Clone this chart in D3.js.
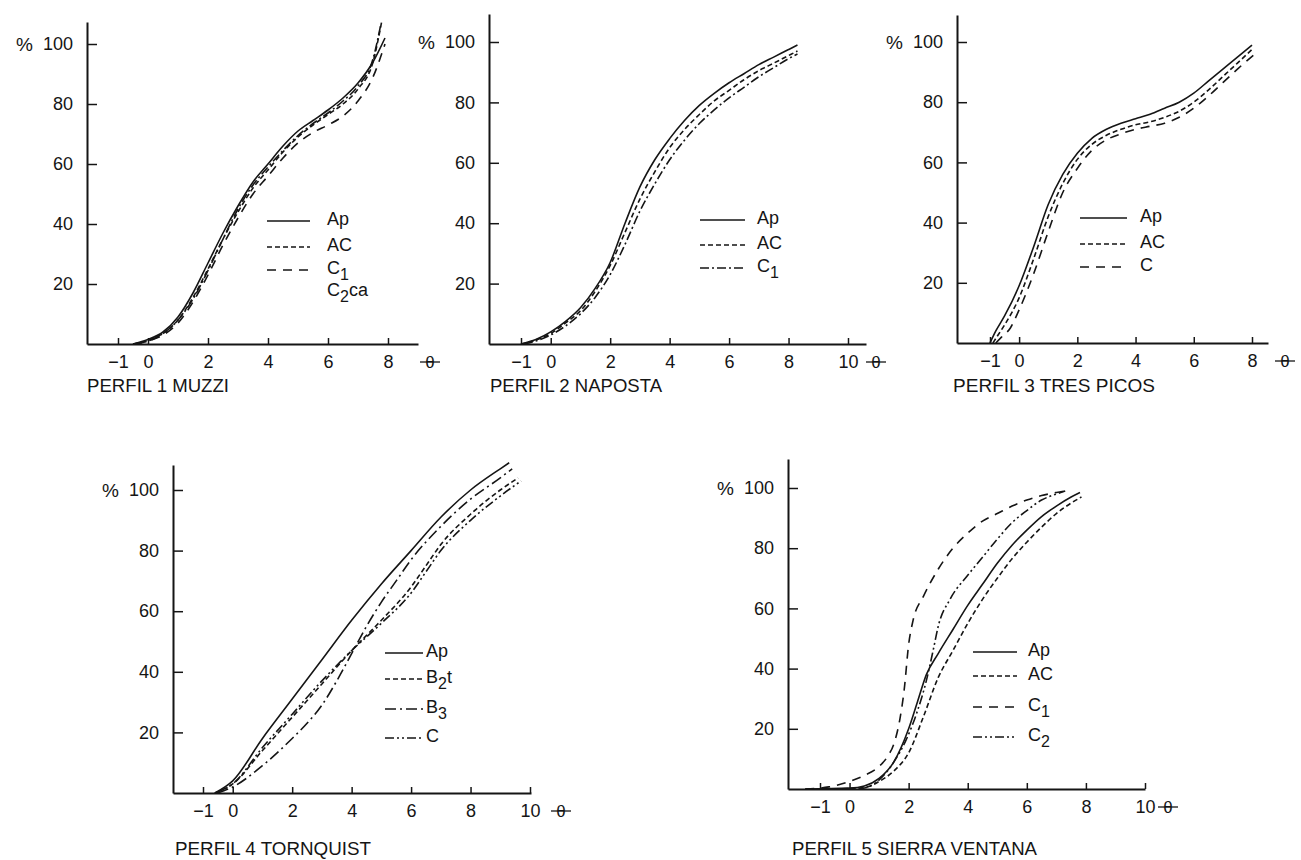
<!DOCTYPE html>
<html><head><meta charset="utf-8">
<script src="https://cdn.jsdelivr.net/npm/d3@7"></script>
<style>
body{margin:0;background:#fff}
text{font-family:"Liberation Sans",Arial,sans-serif;fill:#151515}
</style></head>
<body><svg id="c" width="1301" height="860"></svg>
<script>
// ---------------- DATA (phi, cumulative %) ----------------
const xTicks1 = [-1, 0, 2, 4, 6, 8];
const xTicks2 = [-1, 0, 2, 4, 6, 8, 10];
const yTicks = [20, 40, 60, 80, 100];

const titles = ["PERFIL 1  MUZZI", "PERFIL 2  NAPOSTA", "PERFIL 3  TRES PICOS", "PERFIL 4  TORNQUIST", "PERFIL 5  SIERRA VENTANA"];

// Perfil 1 Muzzi
const p1_names = ["Ap", "AC", "C1", "C2ca"];
const p1_Ap = [[-0.5,0],[0,1.5],[0.5,4],[1,9],[1.5,17],[2,27],[2.5,37],[3,46],[3.5,54],[4,60],[4.5,66],[5,71],[5.5,74.5],[6,78],[6.5,82],[7,87],[7.5,94],[7.9,102]];
const p1_AC = [[-0.5,0],[0,1.2],[0.5,3.5],[1,8],[1.5,15.5],[2,25],[2.5,35],[3,44],[3.5,52],[4,58],[4.5,64],[5,69],[5.5,73],[6,76.5],[6.5,80],[7,85],[7.5,94],[7.8,108]];
const p1_C1 = [[-0.4,0],[0,1],[0.5,3],[1,7],[1.5,14],[2,23],[2.5,33],[3,42],[3.5,50],[4,56],[4.5,62],[5,67],[5.5,70.5],[6,73],[6.5,76],[7,81],[7.5,89],[7.9,100]];
const p1_C2ca = [[-0.5,0],[0,1],[0.5,3.5],[1,8],[1.5,15],[2,24.5],[2.5,35],[3,45],[3.5,53],[4,59],[4.5,64.5],[5,69.5],[5.5,73.5],[6,77],[6.5,81],[7,86],[7.5,95],[7.75,106]];

// Perfil 2 Naposta
const p2_names = ["Ap", "AC", "C1"];
const p2_Ap = [[-1,0],[-0.5,1.5],[0,4],[0.5,7.5],[1,12],[1.5,18.5],[2,27],[2.5,40],[3,52],[3.5,61],[4,68],[4.5,74],[5,79],[5.5,83],[6,86.5],[6.5,89.5],[7,92.5],[7.5,95],[8,97.5],[8.3,99]];
const p2_AC = [[-1,0],[-0.5,1.3],[0,3.5],[0.5,7],[1,11],[1.5,17.5],[2,26],[2.5,37],[3,48],[3.5,57],[4,65],[4.5,71],[5,76],[5.5,80.5],[6,84],[6.5,87.5],[7,90.5],[7.5,93],[8,95.5],[8.3,97]];
const p2_C1 = [[-0.9,0],[-0.5,1],[0,3],[0.5,6],[1,10],[1.5,15.5],[2,23],[2.5,33],[3,44],[3.5,53],[4,61],[4.5,67.5],[5,73],[5.5,77.5],[6,81.5],[6.5,85],[7,88.5],[7.5,91.5],[8,94.5],[8.3,96]];

// Perfil 3 Tres Picos
const p3_names = ["Ap", "AC", "C"];
const p3_Ap = [[-1.0,0],[-0.8,4],[-0.5,9],[0,19],[0.5,32],[1,46],[1.5,56],[2,63],[2.5,68],[3,71],[3.5,73],[4,74.5],[4.5,76],[5,78],[5.5,80],[6,83],[6.5,87],[7,91],[7.5,95],[8,99]];
const p3_AC = [[-0.9,0],[-0.7,3],[-0.5,6],[0,15],[0.5,28],[1,42],[1.5,53],[2,61],[2.5,66],[3,69],[3.5,71],[4,72.5],[4.5,73.5],[5,75],[5.5,77],[6,80],[6.5,84],[7,88.5],[7.5,93],[8,97.5]];
const p3_C = [[-0.8,0],[-0.6,2],[-0.3,5],[0,11],[0.5,23],[1,37],[1.5,50],[2,58],[2.5,64],[3,67.5],[3.5,69.5],[4,71],[4.5,72],[5,73],[5.5,75],[6,78],[6.5,82],[7,86.5],[7.5,91],[8.1,96]];

// Perfil 4 Tornquist
const p4_names = ["Ap", "B2t", "B3", "C"];
const p4_Ap = [[-0.6,0],[0,4],[1,18],[2,31],[3,44],[4,57],[5,69],[6,80],[7,91],[8,100],[9,107],[9.3,109]];
const p4_B2t = [[-0.6,0],[0,3],[1,14],[2,25],[3,36],[4,47],[5,57],[6,68],[6.5,75],[7,82],[8,92],[9,100],[9.6,104]];
const p4_B3 = [[-0.5,0],[0,2],[1,9],[2,18],[2.5,23],[3,29],[3.5,37],[4,46],[4.5,55],[5,63],[5.5,70],[6,77],[7,88],[8,97],[9,104],[9.4,107]];
const p4_C = [[-0.6,0],[0,3],[1,15],[2,26],[3,37],[4,47],[5,56],[6,66],[6.5,73],[7,80],[8,90],[9,98],[9.7,103]];

// Perfil 5 Sierra Ventana
const p5_names = ["Ap", "AC", "C1", "C2"];
const p5_Ap = [[-1.5,0],[0,0.3],[0.5,1],[1,3.5],[1.5,9],[2,20],[2.3,29],[2.6,38],[3,45],[3.5,53],[4,61],[4.5,68],[5,75],[5.5,81],[6,86],[6.5,90.5],[7,94],[7.5,97],[7.8,98.5]];
const p5_AC = [[-0.5,0],[0.5,0.5],[1,2.5],[1.5,6],[2,12],[2.5,24],[3,37],[3.5,46],[4,55],[4.5,63],[5,70],[5.5,76.5],[6,82],[6.5,87],[7,91.5],[7.5,95],[7.85,97]];
const p5_C1 = [[-1.5,0],[-0.7,0.7],[0,2.5],[0.5,4.5],[1,7.5],[1.3,11],[1.5,15],[1.7,23],[1.85,33],[2,48],[2.15,56],[2.5,64],[3,73],[3.5,80],[4,85],[4.5,89],[5,91.5],[5.5,94],[6,96],[6.5,97.5],[7,98.5],[7.3,99]];
const p5_C2 = [[0.3,0],[0.8,1.5],[1.2,5],[1.5,9],[1.9,16],[2.3,26],[2.6,36],[2.85,47],[3,54],[3.4,63],[4,71],[4.5,77],[5,83],[5.5,88.5],[6,92.5],[6.5,96],[7,98],[7.3,99]];

// ---------------- STYLES / LAYOUT ----------------
const DASH = {solid:null, short:"5,3", long:"9,7", dashdot:"9,3,2,3", longdot:"11,4,2,4", dashdotdot:"9,3,2,3,2,3"};

const panels = [
  {title:titles[0], tw:142, yAxisX:87, top:22, axisY:344, y100:44, tA:-1, tAx:118, tB:8, tBx:388, xEnd:418, phiX:430,
   ticks:xTicks1, series:[p1_Ap,p1_AC,p1_C1,p1_C2ca], names:p1_names,
   dash:[DASH.solid,DASH.short,DASH.long,DASH.dashdot], legendLine:[true,true,true,false],
   lg:{x1:267,x2:310,tx:327,ys:[219,245,268,290]}, titleX:87, titleY:392},
  {title:titles[1], tw:172, yAxisX:489, top:14, axisY:344, y100:42, tA:-1, tAx:521, tB:10, tBx:848, xEnd:866, phiX:876,
   ticks:xTicks2, series:[p2_Ap,p2_AC,p2_C1], names:p2_names,
   dash:[DASH.solid,DASH.short,DASH.dashdot], legendLine:[true,true,true],
   lg:{x1:700,x2:745,tx:757,ys:[218,243,266]}, titleX:490, titleY:392},
  {title:titles[2], tw:202, yAxisX:957, top:15, axisY:343, y100:42, tA:-1, tAx:990, tB:8, tBx:1252, xEnd:1268, phiX:1285,
   ticks:xTicks1, series:[p3_Ap,p3_AC,p3_C], names:p3_names,
   dash:[DASH.solid,DASH.short,DASH.long], legendLine:[true,true,true],
   lg:{x1:1080,x2:1127,tx:1140,ys:[216,242,265]}, titleX:953, titleY:392},
  {title:titles[3], tw:196, yAxisX:173, top:465, axisY:793, y100:490, tA:-1, tAx:203, tB:10, tBx:530, xEnd:531, phiX:561,
   ticks:xTicks2, series:[p4_Ap,p4_B2t,p4_B3,p4_C], names:p4_names,
   dash:[DASH.solid,DASH.short,DASH.longdot,DASH.dashdotdot], legendLine:[true,true,true,true],
   lg:{x1:385,x2:423,tx:426,ys:[651,677,707,736]}, titleX:175, titleY:855},
  {title:titles[4], tw:245, yAxisX:788, top:459, axisY:789, y100:488, tA:-1, tAx:820, tB:10, tBx:1145, xEnd:1145, phiX:1168,
   ticks:xTicks2, series:[p5_Ap,p5_AC,p5_C1,p5_C2], names:p5_names,
   dash:[DASH.solid,DASH.short,DASH.long,DASH.dashdotdot], legendLine:[true,true,true,true],
   lg:{x1:973,x2:1017,tx:1028,ys:[650,674,705,735]}, titleX:792, titleY:855}
];

const svg = d3.select("#c");
const INK = "#151515";

function label(sel, name){
  const m = name.match(/^([A-Za-z]+?)(\d)(.*)$/);
  if(!m){ sel.text(name); return; }
  sel.append("tspan").text(m[1]);
  sel.append("tspan").attr("dy",6).attr("font-size",16).text(m[2]);
  if(m[3]) sel.append("tspan").attr("dy",-6).text(m[3]);
}

panels.forEach(p => {
  const g = svg.append("g");
  const x = d3.scaleLinear().domain([p.tA,p.tB]).range([p.tAx,p.tBx]);
  x.domain([x.invert(p.yAxisX), x.invert(p.xEnd)]).range([p.yAxisX, p.xEnd]);
  const y = d3.scaleLinear().domain([0,100]).range([p.axisY,p.y100]);
  y.domain([0, y.invert(p.top)]).range([p.axisY, p.top]);

  const xa = g.append("g").attr("transform",`translate(0,${p.axisY})`)
    .call(d3.axisBottom(x).tickValues(p.ticks).tickSizeInner(-6).tickSizeOuter(0).tickPadding(11)
      .tickFormat(d => d < 0 ? "\u2212" + Math.abs(d) : d));
  xa.select(".domain").attr("stroke",INK).attr("stroke-width",2);
  xa.selectAll(".tick line").attr("stroke",INK).attr("stroke-width",1.5);
  xa.selectAll(".tick text").attr("font-size",18).attr("fill",INK).attr("font-family","Liberation Sans, Arial, sans-serif");

  const ya = g.append("g").attr("transform",`translate(${p.yAxisX},0)`)
    .call(d3.axisLeft(y).tickValues(yTicks).tickSizeInner(-10).tickSizeOuter(0).tickPadding(14));
  ya.select(".domain").attr("stroke",INK).attr("stroke-width",2);
  ya.selectAll(".tick line").attr("stroke",INK).attr("stroke-width",1.5);
  ya.selectAll(".tick text").attr("font-size",18).attr("fill",INK).attr("font-family","Liberation Sans, Arial, sans-serif");

  g.append("text").attr("x",p.yAxisX-54).attr("y",y(100)).attr("dy","0.36em")
    .attr("text-anchor","end").attr("font-size",19).text("%");

  g.append("text").attr("x",p.phiX).attr("y",p.axisY+24).attr("text-anchor","middle")
    .attr("font-size",17).text("\u03B8");
  g.append("line").attr("x1",p.phiX-10).attr("x2",p.phiX+10)
    .attr("y1",p.axisY+18).attr("y2",p.axisY+18).attr("stroke",INK).attr("stroke-width",1.3);

  const line = d3.line().x(d=>x(d[0])).y(d=>y(d[1])).curve(d3.curveMonotoneX);
  p.series.forEach((s,i) => {
    g.append("path").datum(s).attr("d",line).attr("fill","none")
      .attr("stroke",INK).attr("stroke-width",1.6)
      .attr("stroke-dasharray",p.dash[i]);
  });

  p.names.forEach((n,i) => {
    const yy = p.lg.ys[i];
    if(p.legendLine[i]){
      g.append("line").attr("x1",p.lg.x1).attr("x2",p.lg.x2).attr("y1",yy+2).attr("y2",yy+2)
        .attr("stroke",INK).attr("stroke-width",1.6).attr("stroke-dasharray",p.dash[i]);
    }
    const t = g.append("text").attr("x",p.lg.tx).attr("y",yy+6).attr("font-size",18);
    label(t,n);
  });

  g.append("text").attr("x",p.titleX).attr("y",p.titleY).attr("font-size",19)
    .attr("textLength",p.tw).attr("lengthAdjust","spacingAndGlyphs").text(p.title);
});
</script></body></html>
